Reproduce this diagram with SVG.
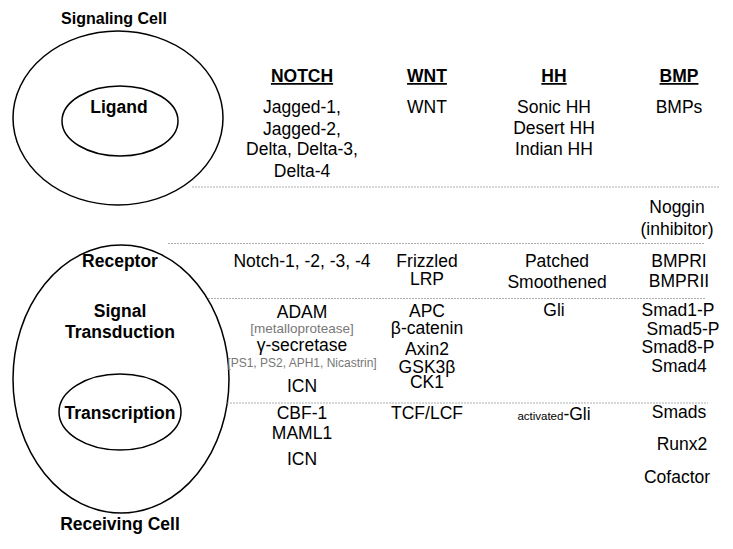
<svg xmlns="http://www.w3.org/2000/svg" width="733" height="549" viewBox="0 0 733 549">
<style>
.cell{fill:none;stroke:#000;stroke-width:1.5}
.lbl{font-family:"Liberation Sans",Arial,sans-serif;font-weight:bold;font-size:17.5px;fill:#000;text-anchor:middle}
.hd{font-family:"Liberation Sans",Arial,sans-serif;font-weight:bold;font-size:17.5px;fill:#000;text-anchor:middle;text-decoration:underline}
.t{font-family:"Liberation Sans",Arial,sans-serif;font-size:17.5px;fill:#000;text-anchor:middle}
.g{font-family:"Liberation Sans",Arial,sans-serif;fill:#777;text-anchor:middle}
.div{stroke:#999;stroke-width:0.8;stroke-dasharray:2 1;fill:none}
</style>
<rect width="733" height="549" fill="#fff"/>
<g id="signaling-cell">
<ellipse class="cell" cx="118" cy="118" rx="105" ry="87"/>
<text class="lbl" x="114" y="24" style="font-size:16px">Signaling Cell</text>
</g>
<g id="ligand">
<ellipse class="cell" cx="120" cy="121" rx="58" ry="35"/>
<text class="lbl" x="119" y="113">Ligand</text>
</g>
<g id="receiving-cell">
<ellipse class="cell" cx="121" cy="379" rx="108" ry="134"/>
<text class="lbl" x="120" y="267">Receptor</text>
<text class="lbl" x="120" y="317">Signal</text>
<text class="lbl" x="120" y="338">Transduction</text>
<text class="lbl" x="120" y="530">Receiving Cell</text>
</g>
<g id="transcription">
<ellipse class="cell" cx="120" cy="412" rx="61" ry="38"/>
<text class="lbl" x="120" y="419">Transcription</text>
</g>
<g id="connectors">
<line class="div" x1="192" y1="187" x2="720" y2="187"/>
<line class="div" x1="168" y1="243.5" x2="705" y2="243.5"/>
<line class="div" x1="208" y1="298.5" x2="705" y2="298.5"/>
<line class="div" x1="227" y1="403" x2="708" y2="403"/>
</g>
<g id="notch">
<text class="hd" x="302" y="82">NOTCH</text>
<text class="t" x="302" y="113">Jagged-1,</text>
<text class="t" x="302" y="135">Jagged-2,</text>
<text class="t" x="302" y="155">Delta, Delta-3,</text>
<text class="t" x="302" y="177">Delta-4</text>
<text class="t" x="302" y="267">Notch-1, -2, -3, -4</text>
<text class="t" x="302" y="318">ADAM</text>
<text class="g" x="302" y="333" font-size="13.5">[metalloprotease]</text>
<text class="t" x="302" y="351">γ-secretase</text>
<text class="g" x="302" y="367" font-size="12">[PS1, PS2, APH1, Nicastrin]</text>
<text class="t" x="302" y="392">ICN</text>
<text class="t" x="302" y="419">CBF-1</text>
<text class="t" x="302" y="439">MAML1</text>
<text class="t" x="302" y="465">ICN</text>
</g>
<g id="wnt">
<text class="hd" x="427" y="82">WNT</text>
<text class="t" x="427" y="113">WNT</text>
<text class="t" x="427" y="267">Frizzled</text>
<text class="t" x="427" y="285">LRP</text>
<text class="t" x="427" y="317">APC</text>
<text class="t" x="427" y="334">β-catenin</text>
<text class="t" x="427" y="355">Axin2</text>
<text class="t" x="427" y="373">GSK3β</text>
<text class="t" x="427" y="388">CK1</text>
<text class="t" x="427" y="419">TCF/LCF</text>
</g>
<g id="hh">
<text class="hd" x="554" y="82">HH</text>
<text class="t" x="554" y="113">Sonic HH</text>
<text class="t" x="554" y="134">Desert HH</text>
<text class="t" x="554" y="155">Indian HH</text>
<text class="t" x="557" y="267">Patched</text>
<text class="t" x="557" y="288">Smoothened</text>
<text class="t" x="554" y="316">Gli</text>
<text class="t" x="554" y="420"><tspan font-size="11.5">activated</tspan>-Gli</text>
</g>
<g id="bmp">
<text class="hd" x="679" y="82">BMP</text>
<text class="t" x="679" y="113">BMPs</text>
<text class="t" x="677" y="213">Noggin</text>
<text class="t" x="677" y="235">(inhibitor)</text>
<text class="t" x="679" y="267">BMPRI</text>
<text class="t" x="679" y="287">BMPRII</text>
<text class="t" x="678" y="316">Smad1-P</text>
<text class="t" x="683" y="335">Smad5-P</text>
<text class="t" x="678" y="353">Smad8-P</text>
<text class="t" x="679" y="372">Smad4</text>
<text class="t" x="679" y="418">Smads</text>
<text class="t" x="682" y="450">Runx2</text>
<text class="t" x="677" y="483">Cofactor</text>
</g>
</svg>
